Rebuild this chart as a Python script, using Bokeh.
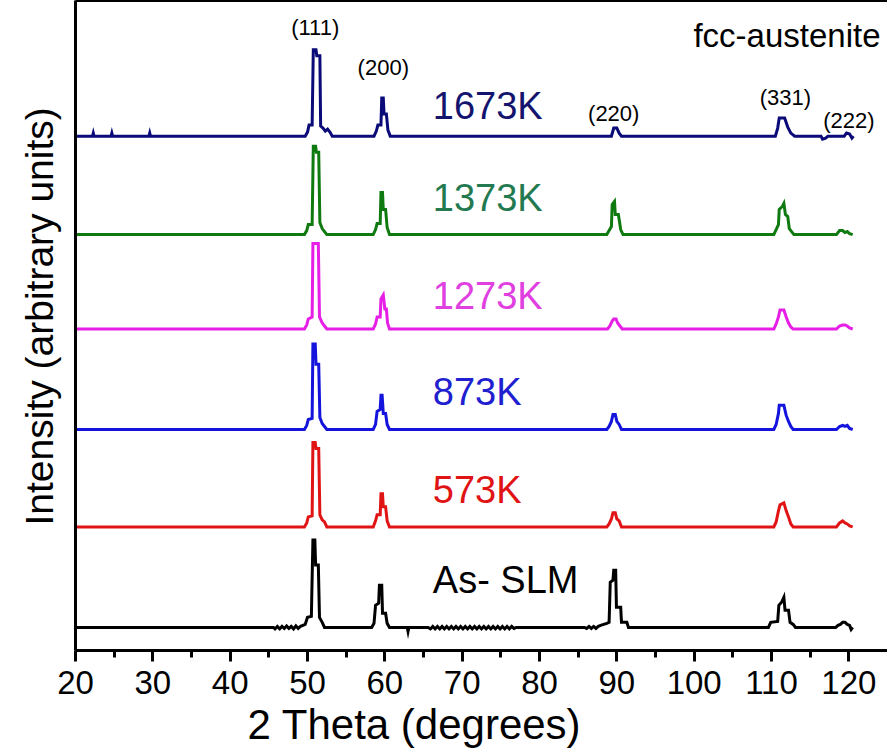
from bokeh.plotting import figure
from bokeh.models import Range1d, FixedTicker, LinearAxis, Title
from bokeh.core.properties import value
from bokeh.embed import file_html
from bokeh.resources import INLINE

FONT = "Liberation Sans"

# ---------------- data (2 theta in degrees, intensity in arbitrary units) ----------------
x_major_ticks = [20, 30, 40, 50, 60, 70, 80, 90, 100, 110, 120]
x_minor_ticks = [25, 35, 45, 55, 65, 75, 85, 95, 105, 115]

series_names = ["As- SLM", "573K", "873K", "1273K", "1373K", "1673K"]
line_colors = ["#000000", "#e01414", "#1414dc", "#e61ee6", "#0f7a0f", "#0a0a78"]
label_colors = ["#000000", "#e01414", "#2020d0", "#e040e0", "#237a50", "#14146e"]
offsets = [23, 123, 220, 320, 414, 512]

asslm_2theta = [20, 45.6, 45.8, 46.1, 46.4, 46.7, 47.0, 47.3, 47.6, 47.9, 48.2, 48.5, 48.8, 49.1, 49.4, 49.7,
                50.0, 50.5, 50.7, 50.95, 51.05, 51.4, 51.55, 51.9, 52.2,
                58.3, 58.6, 58.8, 59.2, 59.3, 59.6, 59.7, 60.1, 60.3, 60.6,
                62.9, 63.0, 63.1,
                65.6, 65.9, 66.2, 66.5, 66.8, 67.1, 67.4, 67.7, 68.0, 68.3, 68.6, 68.9, 69.2, 69.5, 69.8,
                70.1, 70.4, 70.7, 71.0, 71.3, 71.6, 71.9, 72.2, 72.5, 72.8, 73.1, 73.4, 73.7, 74.0, 74.3,
                74.6, 74.9, 75.2, 75.5, 75.8, 76.1, 76.4, 76.7, 77.0,
                85.8, 86.1, 86.4, 86.7, 87.0, 87.3, 87.6, 87.9, 88.3, 88.7, 89.0,
                89.15, 89.5, 89.6, 89.85, 89.95, 90.5, 90.6, 91.3, 91.5,
                109.6, 109.9, 110.8, 110.95, 111.3, 111.6, 111.75, 112.2, 112.4, 112.8, 113.1,
                118.3, 118.6, 118.9, 119.2, 119.5, 119.8, 120.1, 120.3, 120.5]
asslm_int = [0, 0, -1.5, 1, -1.5, 1, -1, 1.5, -1, 1, -1.5, 1.5, -1, 1, 2, 3,
             10, 11, 87, 87, 62, 62, 10, 5, 0,
             0, 4, 22, 24, 42, 42, 14, 14, 4, 0,
             0, -4, 0,
             0, -1.5, 1, -1.5, 1, -1.5, 1, -1.5, 1, -1.5, 1, -1.5, 1, -1.5, 1,
             -1.5, 1, -1.5, 1, -1.5, 1, -1.5, 1, -1.5, 1, -1.5, 1, -1.5, 1, -1.5,
             1, -1.5, 1, -1.5, 1, -1.5, 1, -1, 0,
             0, -1, 1, -1, 1, -1, 1, 2, 3, 4, 5,
             45, 47, 57, 57, 20, 20, 5, 5, 0,
             0, 5, 6, 22, 25, 30, 17, 17, 5, 3, 0,
             0, 2, 3, 5, 5, 3, 2, -2, 0]

k573_2theta = [20, 49.6, 49.9, 50.1, 50.6, 50.7, 51.0, 51.1, 51.45, 51.6, 51.9, 52.2, 52.5,
               58.5, 58.8, 59.0, 59.4, 59.5, 59.7, 59.8, 60.1, 60.3, 60.6,
               88.7, 89.0, 89.3, 89.5, 89.8, 90.0, 90.3, 90.6,
               110.3, 110.6, 110.9, 111.1, 111.6, 111.9, 112.2, 112.5, 112.8,
               118.4, 118.8, 119.2, 119.5, 119.8, 120.1, 120.5]
k573_int = [0, 0, 4, 10, 11, 84, 84, 78, 78, 12, 7, 5, 0,
            0, 6, 12, 12, 33, 33, 20, 20, 6, 0,
            0, 3, 8, 14, 14, 8, 6, 0,
            0, 5, 16, 22, 24, 16, 10, 3, 0,
            0, 4, 6, 4, 3, 1, 0]

k873_2theta = [20, 49.6, 49.9, 50.1, 50.6, 50.7, 51.0, 51.1, 51.45, 51.6, 51.9, 52.2, 52.5,
               58.5, 58.8, 59.0, 59.4, 59.5, 59.65, 59.8, 60.1, 60.3, 60.6,
               88.7, 89.0, 89.3, 89.5, 89.8, 90.0, 90.3, 90.6,
               110.3, 110.6, 110.9, 111.0, 111.6, 111.9, 112.2, 112.5, 112.8,
               118.4, 118.8, 119.2, 119.5, 119.8, 120.1, 120.5]
k873_int = [0, 0, 4, 10, 11, 85, 85, 65, 65, 12, 6, 3, 0,
            0, 5, 18, 20, 34, 34, 16, 16, 5, 0,
            0, 3, 8, 15, 15, 8, 5, 0,
            0, 5, 16, 24, 24, 14, 8, 3, 0,
            0, 3, 4, 3, 4, 1, 0]

k1273_2theta = [20, 49.6, 49.9, 50.1, 50.6, 50.7, 51.4, 51.55, 51.9, 52.2, 52.5,
                58.5, 58.8, 59.0, 59.4, 59.5, 59.8, 60.0, 60.2, 60.35, 60.6,
                88.8, 89.1, 89.4, 89.6, 89.9, 90.1, 90.4, 90.7,
                110.3, 110.6, 110.9, 111.1, 111.6, 111.9, 112.2, 112.5, 112.8,
                118.4, 118.8, 119.2, 119.5, 119.8, 120.1, 120.5]
k1273_int = [0, 0, 4, 10, 12, 85, 85, 12, 6, 3, 0,
             0, 5, 12, 12, 30, 34, 20, 20, 6, 0,
             0, 3, 8, 10, 10, 6, 3, 0,
             0, 5, 12, 19, 19, 12, 6, 2, 0,
             0, 3, 4, 4, 3, 1, 0]

k1373_2theta = [20, 49.6, 49.9, 50.1, 50.6, 50.75, 51.05, 51.15, 51.45, 51.6, 51.9, 52.2, 52.5,
                58.5, 58.8, 59.0, 59.4, 59.5, 59.7, 59.8, 60.1, 60.3, 60.6,
                88.7, 89.0, 89.3, 89.4, 89.7, 89.8, 90.2, 90.5, 90.8,
                110.3, 110.6, 110.9, 111.0, 111.4, 111.6, 111.8, 112.1, 112.3, 112.6, 112.9,
                118.4, 118.8, 119.2, 119.5, 119.8, 120.1, 120.5]
k1373_int = [0, 0, 4, 10, 10, 88, 88, 82, 82, 12, 6, 3, 0,
             0, 5, 11, 11, 42, 42, 25, 25, 7, 0,
             0, 4, 8, 30, 33, 20, 20, 5, 0,
             0, 5, 10, 25, 28, 31, 20, 18, 6, 3, 0,
             0, 4, 4, 2, 3, 1, 0]

k1673_2theta = [20, 22.2, 22.3, 22.4, 24.6, 24.7, 24.8, 29.5, 29.6, 29.7,
                49.7, 50.0, 50.2, 50.6, 50.75, 51.1, 51.2, 51.6, 51.7, 52.0, 52.3, 52.6, 52.9, 53.2,
                58.6, 58.9, 59.1, 59.5, 59.6, 59.8, 59.9, 60.2, 60.4, 60.7,
                89.3, 89.6, 90.0, 90.3, 90.6,
                110.5, 110.8, 111.0, 111.7, 112.1, 112.5, 113.0,
                116.4, 116.6, 117.0, 117.3,
                119.4, 119.7, 120.1, 120.4, 120.6]
k1673_int = [0, 0, 3, 0, 0, 3, 0, 0, 3, 0,
             0, 4, 11, 11, 86, 86, 80, 80, 10, 8, 5, 7, 4, 0,
             0, 5, 11, 11, 38, 38, 22, 22, 6, 0,
             0, 8, 8, 3, 0,
             0, 8, 18, 18, 9, 3, 0,
             0, -3, -2, 0,
             0, 3, 2, -2, 0]

series_2theta = [asslm_2theta, k573_2theta, k873_2theta, k1273_2theta, k1373_2theta, k1673_2theta]
series_int = [asslm_int, k573_int, k873_int, k1273_int, k1373_int, k1673_int]

peak_labels = ["(111)", "(200)", "(220)", "(331)", "(222)"]
peak_label_2theta = [51.0, 59.8, 89.6, 111.8, 120.0]
peak_label_level = [620, 580, 535, 550, 528]

name_label_2theta = 66.2
name_label_level = [70, 160, 257, 353, 450, 542]

# ---------------- figure ----------------
p = figure(width=887, height=752, x_range=Range1d(20, 125), y_range=Range1d(0, 647),
           output_backend="svg", toolbar_location=None,
           min_border_left=75, min_border_top=0, min_border_right=0, min_border_bottom=102)
p.grid.visible = False
p.outline_line_color = None

for xs, ys, off, col in zip(series_2theta, series_int, offsets, line_colors):
    p.line(xs, [off + v for v in ys], line_color=col, line_width=3, line_join="miter")

# x axis
xa = p.xaxis[0]
xa.ticker = FixedTicker(ticks=x_major_ticks, minor_ticks=x_minor_ticks)
xa.axis_line_width = 3
xa.major_tick_line_width = 3
xa.minor_tick_line_width = 3
xa.major_tick_in = 0
xa.major_tick_out = 11
xa.minor_tick_in = 0
xa.minor_tick_out = 7
xa.major_label_text_font = FONT
xa.major_label_text_font_size = "33px"
xa.major_label_text_color = "black"
xa.major_label_standoff = 9

# y axis (no ticks)
ya = p.yaxis[0]
ya.ticker = FixedTicker(ticks=[])
ya.axis_line_width = 3
ya.major_label_text_font_size = "0px"
ya.major_label_standoff = 0

# top border
top = LinearAxis(ticker=FixedTicker(ticks=[]), axis_line_width=3,
                 major_label_text_font_size="0px", major_label_standoff=0)
p.add_layout(top, "above")

# axis titles (placed like the original, off-centre)
p.add_layout(Title(text="2 Theta (degrees)", align="left", offset=172, standoff=5,
                   text_font=FONT, text_font_size="42px", text_font_style="normal",
                   text_color="black"), "below")
p.add_layout(Title(text="Intensity (arbitrary units)", align="left", offset=125, standoff=30,
                   text_font=FONT, text_font_size="39px", text_font_style="normal",
                   text_color="black"), "left")

# labels
p.text(x=[name_label_2theta] * len(series_names), y=name_label_level, text=series_names,
       text_color=label_colors, text_font=value(FONT), text_font_size="38px",
       text_align="left", text_baseline="middle")
p.text(x=peak_label_2theta, y=peak_label_level, text=peak_labels,
       text_color="black", text_font=value(FONT), text_font_size="22px",
       text_align="center", text_baseline="middle")
p.text(x=[124.1], y=[612], text=["fcc-austenite"],
       text_color="black", text_font=value(FONT), text_font_size="33px",
       text_align="right", text_baseline="middle")

open("out.html", "w").write(file_html(p, INLINE))
